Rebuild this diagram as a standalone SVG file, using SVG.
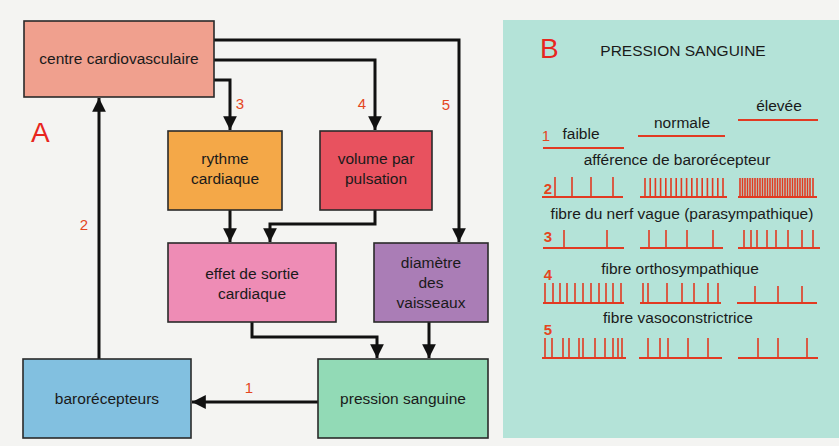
<svg xmlns="http://www.w3.org/2000/svg" width="839" height="446" viewBox="0 0 839 446">
<defs>
<marker id="ah" viewBox="0 0 10 10" refX="10" refY="5" markerWidth="4.6" markerHeight="4.6" markerUnits="strokeWidth" orient="auto">
<path d="M0,0 L10,5 L0,10 z" fill="#111"/>
</marker>
</defs>
<style>
.box{stroke:#2a2a2a;stroke-width:1.6}
.t{font-family:"Liberation Sans",Arial,sans-serif;font-size:15.5px;fill:#1a1a1a;text-anchor:middle}
.n{font-family:"Liberation Sans",Arial,sans-serif;font-size:15px;fill:#e4461e;text-anchor:middle}
.big{font-family:"Liberation Sans",Arial,sans-serif;font-size:28px;fill:#e8261e}
.c{fill:none;stroke:#111;stroke-width:3;marker-end:url(#ah)}
.base{fill:none;stroke:#e23a22;stroke-width:2}
.sp{fill:none;stroke:#e23a22;stroke-width:1.6}
</style>
<rect width="839" height="446" fill="#f4f4f2"/>
<rect x="503" y="20" width="336" height="418" fill="#b4e3d8"/>

<g id="connectors">
<path class="c" d="M214,40 H459 V242"/>
<path class="c" d="M214,60 H375 V130"/>
<path class="c" d="M214,80 H230 V130"/>
<path class="c" d="M99,359 V98"/>
<path class="c" d="M230,210 V242"/>
<path class="c" d="M375,210 V224 H270 V242"/>
<path class="c" d="M252,322 V337 H377 V358"/>
<path class="c" d="M429,322 V358"/>
<path class="c" d="M318,402 H192"/>
<text class="n" x="240" y="109">3</text>
<text class="n" x="362" y="109">4</text>
<text class="n" x="446" y="110">5</text>
<text class="n" x="84" y="230">2</text>
<text class="n" x="249" y="393">1</text>
</g>

<text class="big" x="31" y="142">A</text>

<g id="centre">
<rect class="box" x="24" y="21" width="190" height="76" fill="#f0a08e"/>
<text class="t" x="119" y="64">centre cardiovasculaire</text>
</g>
<g id="rythme">
<rect class="box" x="168" y="131" width="114" height="79" fill="#f4a848"/>
<text class="t" x="225" y="164">rythme</text>
<text class="t" x="225" y="184">cardiaque</text>
</g>
<g id="volume">
<rect class="box" x="320" y="131" width="112" height="79" fill="#e8525f"/>
<text class="t" x="376" y="164">volume par</text>
<text class="t" x="376" y="184">pulsation</text>
</g>
<g id="effet">
<rect class="box" x="168" y="243" width="168" height="79" fill="#ee8cb5"/>
<text class="t" x="252" y="279">effet de sortie</text>
<text class="t" x="252" y="299">cardiaque</text>
</g>
<g id="diametre">
<rect class="box" x="374" y="243" width="114" height="79" fill="#aa7db6"/>
<text class="t" x="431" y="268">diamètre</text>
<text class="t" x="431" y="288">des</text>
<text class="t" x="431" y="308">vaisseaux</text>
</g>
<g id="barorecepteurs">
<rect class="box" x="23" y="359" width="168" height="79" fill="#82c0e0"/>
<text class="t" x="107" y="404">barorécepteurs</text>
</g>
<g id="pression">
<rect class="box" x="318" y="359" width="170" height="79" fill="#92dab6"/>
<text class="t" x="403" y="404">pression sanguine</text>
</g>

<g id="panelB">
<text class="big" x="540" y="58">B</text>
<text class="t" x="683" y="56">PRESSION SANGUINE</text>
<text class="t" x="779" y="111">élevée</text>
<path class="base" d="M738,120 H818"/>
<text class="t" x="682" y="128">normale</text>
<path class="base" d="M638,136 H725"/>
<text class="n" x="546" y="141">1</text>
<text class="t" x="581" y="139">faible</text>
<path class="base" d="M543,148 H624"/>
<text class="t" x="677" y="165">afférence de barorécepteur</text>

<text class="n" x="548" y="194" style="font-weight:bold">2</text>
<path class="base" d="M542,197 H623 M640,197 H727 M738,197 H817"/>
<path class="sp" d="M555,197V177 M572,197V177 M591,197V177 M613,197V177
M645,197V178 M650.2,197V178 M655.4,197V178 M660.6,197V178 M665.8,197V178 M671,197V178 M676.2,197V178 M681.4,197V178 M686.6,197V178 M691.8,197V178 M697,197V178 M702.2,197V178 M707.4,197V178 M712.6,197V178 M717.8,197V178 M723,197V178
M740,197V178 M742.5,197V178 M745,197V178 M747.5,197V178 M750,197V178 M752.5,197V178 M755,197V178 M757.5,197V178 M760,197V178 M762.5,197V178 M765,197V178 M767.5,197V178 M770,197V178 M772.5,197V178 M775,197V178 M777.5,197V178 M780,197V178 M782.5,197V178 M785,197V178 M787.5,197V178 M790,197V178 M792.5,197V178 M795,197V178 M797.5,197V178 M800,197V178 M802.5,197V178 M805,197V178 M807.5,197V178 M810,197V178 M813,197V178"/>
<text class="t" x="682" y="219">fibre du nerf vague (parasympathique)</text>

<text class="n" x="548" y="242" style="font-weight:bold">3</text>
<path class="base" d="M543,248 H624 M640,248 H723 M738,248 H820"/>
<path class="sp" d="M564,248V230 M607,248V230
M649,248V230 M666,248V230 M687,248V230 M713,248V230
M744,248V230 M751,248V230 M757,248V230 M767,248V230 M776,248V230 M788,248V230 M802,248V230 M813,248V230"/>

<text class="t" x="680" y="274">fibre orthosympathique</text>
<text class="n" x="548" y="280" style="font-weight:bold">4</text>
<path class="base" d="M543,303 H624 M640,303 H721 M737,303 H817"/>
<path class="sp" d="M545,303V283 M553,303V283 M560,303V283 M567,303V283 M575,303V283 M583,303V283 M591,303V283 M599,303V283 M606,303V283 M613,303V283 M621,303V283
M643,303V283 M648,303V283 M667,303V283 M682,303V283 M694,303V283 M708,303V283 M718,303V283
M755,303V286 M778,303V286 M802,303V286"/>

<text class="t" x="678" y="323">fibre vasoconstrictrice</text>
<text class="n" x="548" y="335" style="font-weight:bold">5</text>
<path class="base" d="M542,358 H626 M639,358 H722 M738,358 H818"/>
<path class="sp" d="M545,358V338 M552,358V338 M563,358V338 M569,358V338 M579,358V338 M583,358V338 M595,358V338 M605,358V338 M613,358V338 M618,358V338 M622,358V338
M648,358V338 M660,358V338 M668,358V338 M688,358V338 M708,358V338
M758,358V338 M778,358V338 M807,358V338"/>
</g>
</svg>
